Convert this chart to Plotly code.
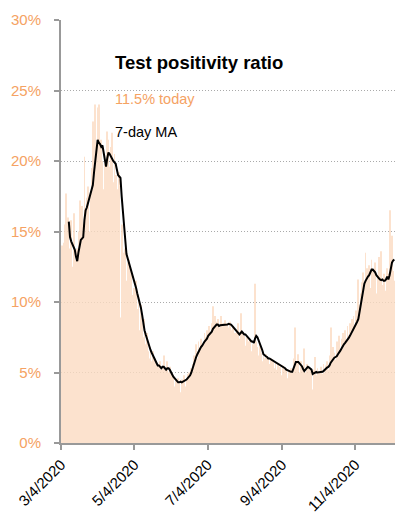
import pandas as pd
import plotly.graph_objects as go

start_date = "2020-03-04"

daily_pct = [
    14.0, 13.5, 14.2, 15.5, 17.7, 16.0, 13.8, 9.0, 15.8, 12.5,
    16.3, 13.0, 8.7, 13.8, 15.0, 17.2, 14.5, 16.8, 15.5, 20.3,
    16.0, 17.4, 18.2, 15.0, 17.6, 19.5, 22.8, 19.0, 24.0, 21.0,
    23.8, 24.0, 14.4, 21.5, 20.0, 18.0, 19.8, 16.5, 22.1, 21.5,
    19.6, 21.0, 22.0, 18.5, 20.5, 19.0, 17.5, 18.0, 19.2, 8.9,
    15.5, 13.5, 12.0, 13.8, 11.5, 12.8, 13.0, 11.0, 12.2, 10.5,
    11.0, 10.0, 11.5, 9.5, 10.2, 8.0, 9.8, 8.5, 7.5, 8.8,
    7.0, 7.8, 6.5, 6.0, 6.8, 5.8, 6.5, 5.2, 6.0, 5.5,
    5.6, 4.8, 5.8, 5.2, 5.5, 6.2, 4.5, 5.3, 5.8, 5.0,
    5.4, 4.9, 4.2, 4.8, 4.0, 4.5, 3.8, 4.6, 4.2, 3.6,
    4.5, 4.2, 4.8, 4.0, 4.6, 4.9, 5.0, 4.4, 5.3, 5.6,
    6.2, 5.5, 7.0, 6.0, 7.2, 6.5, 7.4, 6.8, 7.0, 7.8,
    7.5, 8.0, 7.2, 8.3, 7.8, 8.5, 9.7, 8.0, 9.0, 8.6,
    8.8, 8.2, 7.9, 9.0, 8.5, 8.0, 8.7, 7.6, 8.5, 8.2,
    8.6, 8.0, 7.5, 8.3, 7.8, 7.2, 8.0, 8.5, 7.4, 9.2,
    7.8, 7.0, 7.6, 6.9, 7.5, 7.2, 6.8, 7.4, 6.5, 7.0,
    6.6, 11.3, 7.2, 6.8, 6.2, 7.0, 6.4, 5.8, 6.5, 6.0,
    6.3, 5.8, 6.1, 5.6, 6.0, 5.5, 5.9, 5.3, 5.7, 5.2,
    5.6, 5.0, 5.4, 4.8, 5.5, 5.2, 4.9, 5.3, 4.6, 5.2,
    4.8, 5.3, 5.0, 6.0, 8.2, 5.8, 5.5, 6.3, 5.0, 5.8,
    5.2, 4.8, 6.7, 5.0, 5.6, 5.4, 4.6, 5.2, 5.0, 3.8,
    5.2, 6.1, 4.8, 5.3, 5.0, 4.6, 5.4, 4.9, 5.6, 5.0,
    5.5, 5.8, 5.2, 6.2, 8.2, 6.0, 6.8, 6.4, 5.9, 7.2,
    6.8, 7.6, 6.5, 7.4, 7.8, 7.0, 8.0, 7.3, 8.3, 7.6,
    8.5, 8.0, 8.8, 9.0, 8.2, 9.4, 9.0, 11.6, 9.8, 10.6,
    11.4, 12.1, 11.0, 13.5, 12.4, 11.8, 12.6, 11.0, 13.0, 12.2,
    11.5, 12.8, 10.6, 11.8, 13.2, 11.0, 13.6, 11.2, 12.0, 10.8,
    8.2, 12.4, 12.0, 16.5, 13.5, 14.7, 12.2, 11.5,
]

# 7-day moving average, starting on the 7th day of data
ma_first_day_index = 6
ma_pct = [
    15.7, 14.6, 14.3, 14.1, 13.9, 13.7, 13.2, 12.9, 13.5, 14.1,
    14.4, 14.5, 14.6, 15.8, 16.5, 16.7, 17.0, 17.3, 17.6, 17.9,
    18.3, 19.2, 19.9, 20.8, 21.5, 21.3, 21.2, 21.0, 21.1, 20.6,
    20.0, 19.6, 20.2, 20.6, 20.5, 20.3, 20.2, 20.0, 19.9, 19.8,
    19.4, 19.0, 18.9, 18.8, 17.5, 16.2, 15.3, 14.4, 13.4, 13.1,
    12.9, 12.6, 12.2, 11.9, 11.6, 11.3, 11.0, 10.6, 10.3, 10.0,
    9.6, 9.1, 8.5, 8.0, 7.7, 7.4, 7.1, 6.8, 6.6, 6.4,
    6.2, 6.0, 5.8, 5.65, 5.5, 5.5, 5.4, 5.3, 5.4, 5.4,
    5.3, 5.2, 5.3, 5.3, 5.2, 5.0, 4.8, 4.7, 4.6, 4.5,
    4.4, 4.3, 4.3, 4.35, 4.3, 4.35, 4.4, 4.4, 4.5, 4.6,
    4.7, 4.8, 5.0, 5.3, 5.6, 5.9, 6.1, 6.3, 6.5, 6.7,
    6.8, 6.9, 7.1, 7.2, 7.3, 7.4, 7.6, 7.7, 7.8, 7.9,
    8.1, 8.2, 8.3, 8.4, 8.4, 8.3, 8.35, 8.35, 8.4, 8.4,
    8.4, 8.4, 8.4, 8.45, 8.45, 8.4, 8.3, 8.2, 8.1, 8.0,
    7.9, 7.8, 7.7, 7.8, 7.9, 7.8, 7.7, 7.7, 7.6, 7.5,
    7.4, 7.3, 7.2, 7.2, 7.1, 7.4, 7.6, 7.5, 7.3, 7.1,
    6.9, 6.6, 6.3, 6.2, 6.15, 6.1, 6.0, 6.0, 5.95, 5.9,
    5.85, 5.8, 5.75, 5.7, 5.6, 5.55, 5.5, 5.45, 5.4, 5.35,
    5.3, 5.2, 5.15, 5.1, 5.1, 5.05, 5.05, 5.3, 5.6, 5.75,
    5.75, 5.75, 5.65, 5.55, 5.45, 5.25, 5.1, 5.2, 5.3, 5.4,
    5.35, 5.3, 5.2, 4.9, 4.95, 5.0, 5.05, 5.0, 5.0, 5.05,
    5.0, 5.05, 5.1, 5.2, 5.3, 5.35, 5.4, 5.5, 5.7, 5.85,
    6.0, 6.05, 6.1, 6.15, 6.3, 6.4, 6.55, 6.7, 6.9, 7.0,
    7.1, 7.2, 7.35, 7.45, 7.6, 7.75, 7.95, 8.1, 8.25, 8.4,
    8.6, 8.8, 9.3, 9.9, 10.5, 10.9, 11.3, 11.5, 11.7, 11.8,
    11.9, 12.1, 12.3, 12.3, 12.2, 12.1, 11.9, 11.75, 11.7, 11.6,
    11.55, 11.6, 11.5, 11.5, 11.6, 11.8, 11.6, 11.9, 12.5, 12.8,
    12.95, 13.0,
]

y_tick_values = [0, 5, 10, 15, 20, 25, 30]
y_tick_labels = ["0%", "5%", "10%", "15%", "20%", "25%", "30%"]
x_tick_dates = ["2020-03-04", "2020-05-04", "2020-07-04", "2020-09-04", "2020-11-04"]
x_tick_labels = ["3/4/2020", "5/4/2020", "7/4/2020", "9/4/2020", "11/4/2020"]

title_text = "Test positivity ratio"
today_text = "11.5% today"
ma_text = "7-day MA"

dates = pd.date_range(start_date, periods=len(daily_pct), freq="D")
ma_dates = dates[ma_first_day_index:ma_first_day_index + len(ma_pct)]

FONT = "Liberation Sans, Arial, sans-serif"
ORANGE = "#f5a263"

fig = go.Figure()
fig.add_trace(go.Bar(
    x=dates, y=daily_pct,
    xperiod=86400000, xperiodalignment="middle",
    marker=dict(color="#fcdcc2", line=dict(width=0)),
    opacity=0.8,
    hoverinfo="skip",
))
fig.add_trace(go.Scatter(
    x=ma_dates, y=ma_pct,
    xperiod=86400000, xperiodalignment="middle",
    mode="lines",
    line=dict(color="black", width=2),
    hoverinfo="skip",
))

fig.update_layout(
    width=401, height=513,
    margin=dict(l=53, r=14, t=12, b=78),
    plot_bgcolor="white", paper_bgcolor="white",
    showlegend=False,
    bargap=0.3,
    font=dict(family=FONT, size=15, color="black"),
)
fig.update_xaxes(
    type="date",
    range=["2020-03-04", "2020-12-07"],
    tickvals=x_tick_dates, ticktext=x_tick_labels,
    tickangle=-45,
    tickfont=dict(family=FONT, size=15, color="black"),
    showgrid=False,
    showline=True, linecolor="#999999", linewidth=2,
    ticks="outside", ticklen=5, tickcolor="#999999", tickwidth=2,
    zeroline=False,
    automargin=False,
)
fig.update_yaxes(
    range=[0, 30],
    tickvals=y_tick_values, ticktext=y_tick_labels,
    tickfont=dict(family=FONT, size=15, color=ORANGE),
    showgrid=True, gridcolor="#aaaaaa", griddash="1px,2px", gridwidth=1,
    showline=True, linecolor="#999999", linewidth=2,
    ticks="outside", ticklen=5, tickcolor="#999999", tickwidth=2,
    ticklabelstandoff=10,
    zeroline=False,
    automargin=False,
)

fig.add_annotation(
    xref="paper", yref="paper", x=0.156, y=0.90,
    xanchor="left", yanchor="middle", showarrow=False,
    text="<b>" + title_text + "</b>",
    font=dict(family=FONT, size=18.5, color="black"),
)
fig.add_annotation(
    xref="paper", yref="paper", x=0.156, y=0.813,
    xanchor="left", yanchor="middle", showarrow=False,
    text=today_text,
    font=dict(family=FONT, size=14.5, color=ORANGE),
)
fig.add_annotation(
    xref="paper", yref="paper", x=0.156, y=0.735,
    xanchor="left", yanchor="middle", showarrow=False,
    text=ma_text,
    font=dict(family=FONT, size=14.5, color="black"),
)

fig.write_html("out.html")
